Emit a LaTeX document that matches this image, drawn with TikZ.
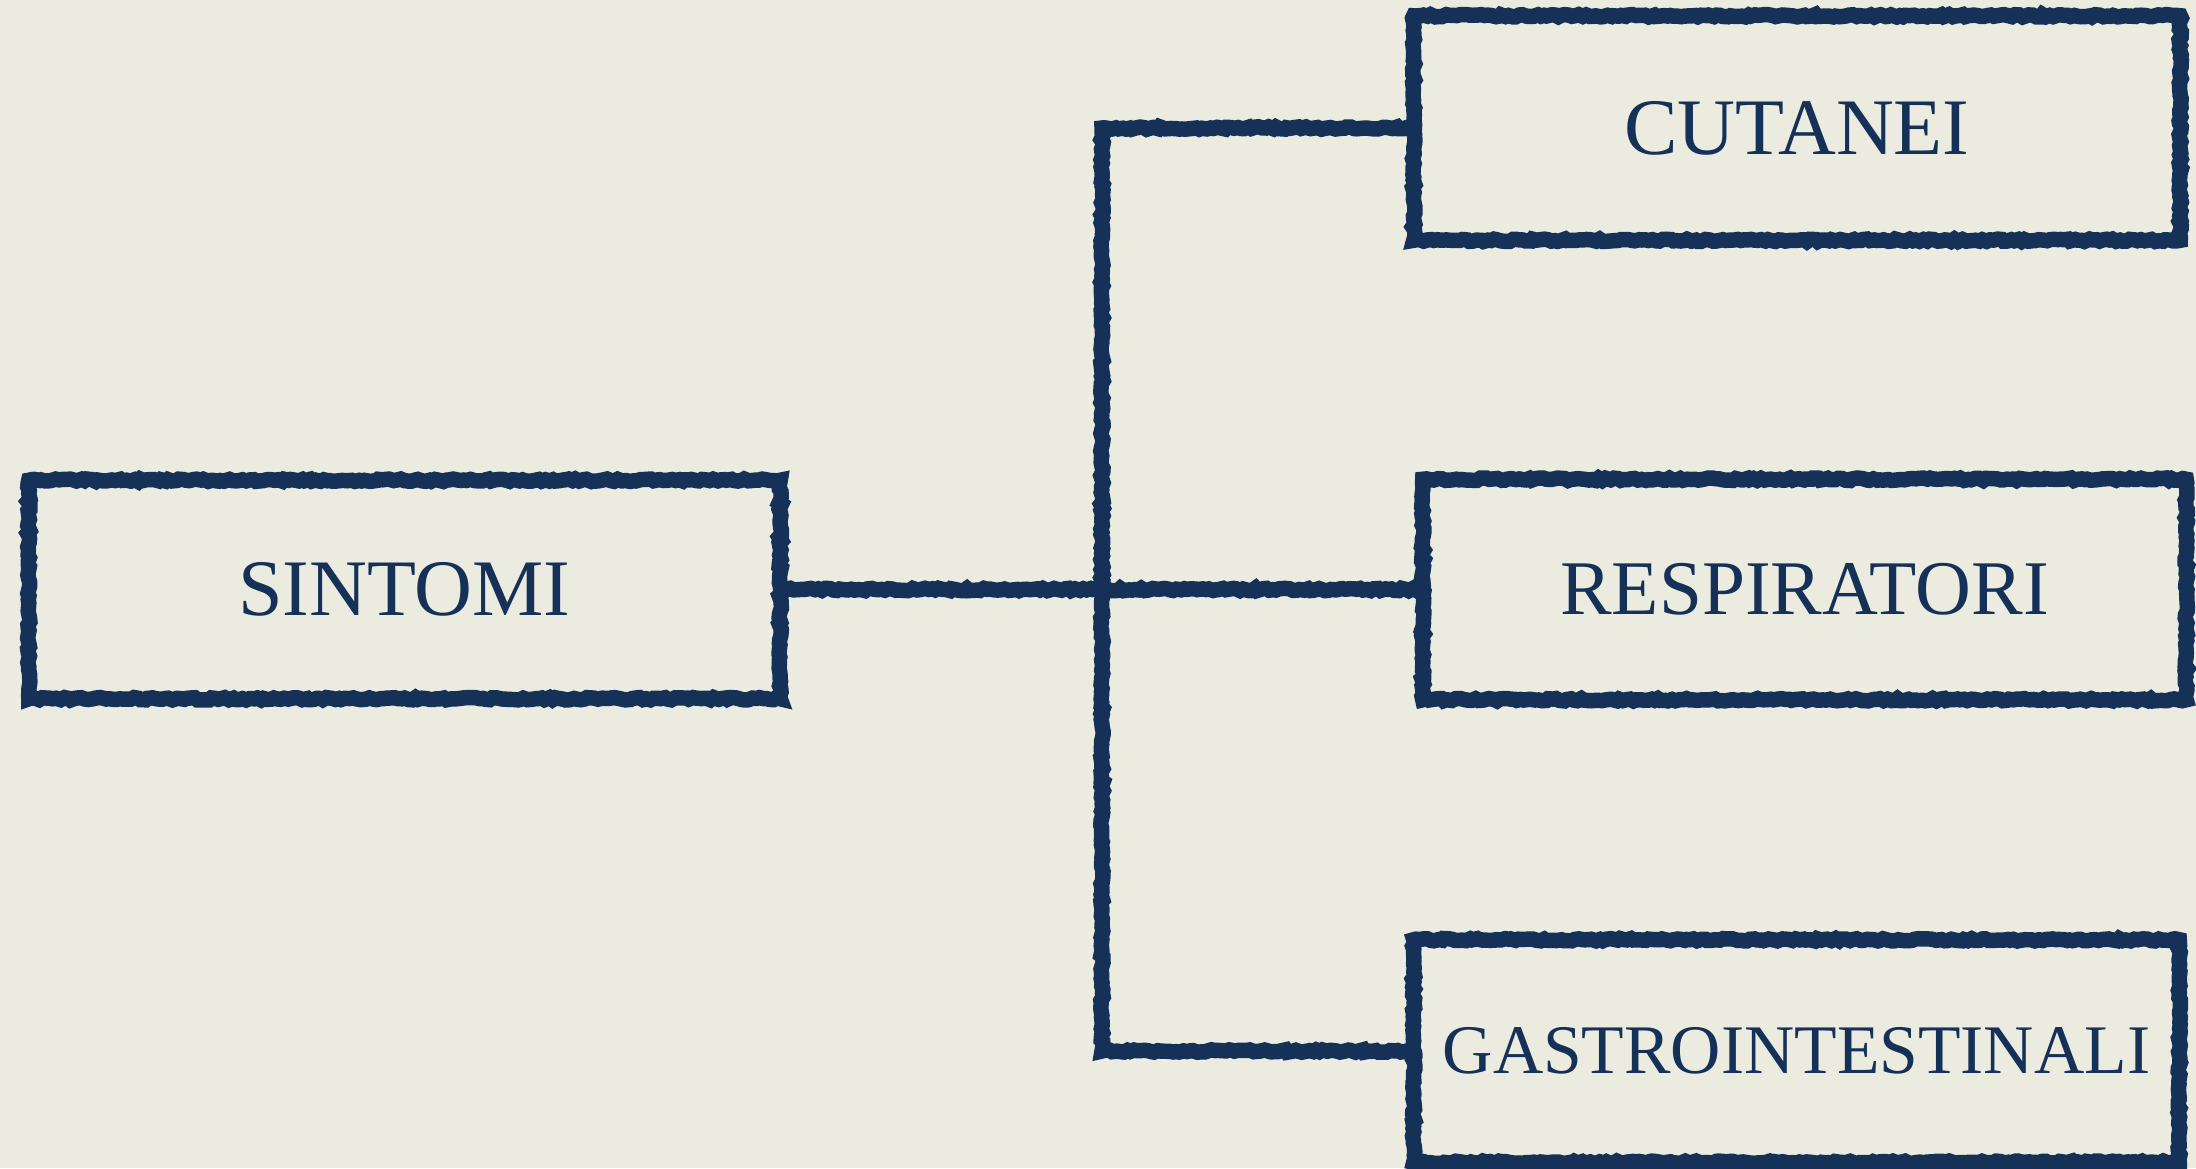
\documentclass[tikz,border=0pt]{standalone}
\usepackage{fontspec}
\setmainfont{Liberation Serif}
\usetikzlibrary{decorations.pathmorphing}
\definecolor{ink}{RGB}{21,49,88}
\definecolor{paper}{RGB}{236,235,224}
\tikzset{
  chalk/.style={draw=ink, line width=4.4pt, line join=miter,
    decorate, decoration={random steps, segment length=1pt, amplitude=0.35pt}},
  labelbox/.style={chalk, rectangle, inner sep=0pt, outer sep=0pt,
    text=ink, font=\fontsize{22.8}{27}\selectfont},
  wire/.style={chalk}
}
\begin{document}
\begin{tikzpicture}
  % page and paper
  \useasboundingbox (0,0) rectangle (21.96,11.68);
  \fill[paper] (0,0) rectangle (21.96,11.68);

  % category boxes
  \node[labelbox, minimum width=7.515cm, minimum height=2.185cm] (S) at (4.045,5.785) {SINTOMI};
  \node[labelbox, minimum width=7.665cm, minimum height=2.245cm] (C) at (17.97,10.40) {CUTANEI};
  \node[labelbox, minimum width=7.635cm, minimum height=2.205cm] (R) at (18.045,5.785) {\fontsize{22}{26}\selectfont RESPIRATORI};
  \node[labelbox, minimum width=7.655cm, minimum height=2.225cm] (G) at (17.965,1.17) {\fontsize{19.8}{24}\selectfont GASTROINTESTINALI};

  % branching connectors
  \coordinate (bus) at (11.02,5.785);
  \draw[wire] (S.east) -- (R.west);
  \draw[wire] (C.west) -| (bus) |- (G.west);
\end{tikzpicture}
\end{document}
